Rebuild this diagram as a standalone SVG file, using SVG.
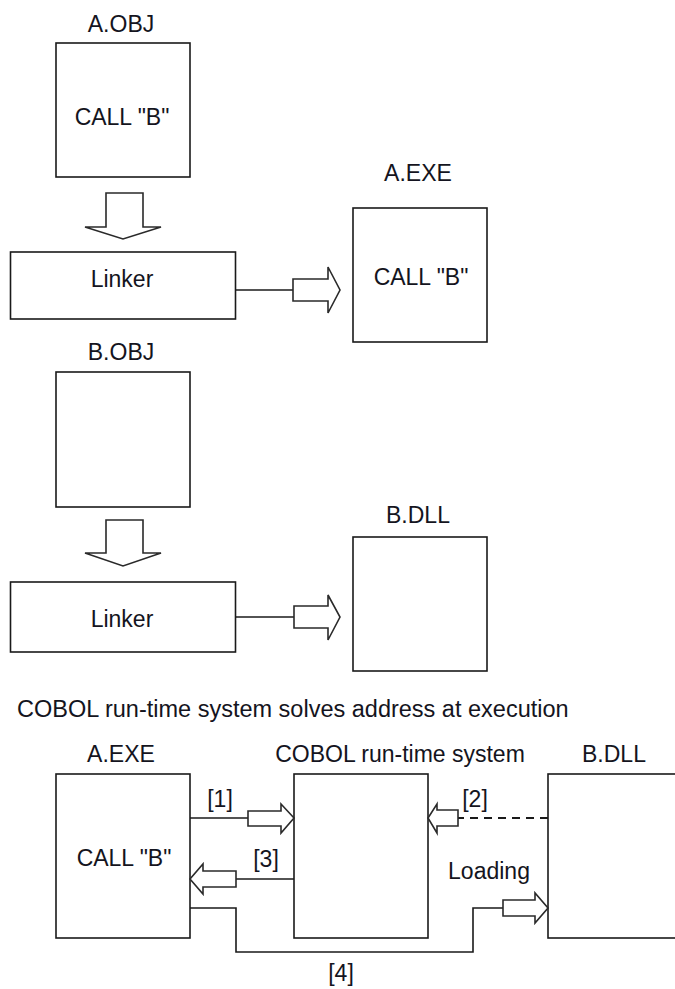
<svg xmlns="http://www.w3.org/2000/svg" width="675" height="989" viewBox="0 0 675 989">
<style>
.box{fill:#fff;stroke:#1a1a1a;stroke-width:1.6}
.t{font-family:"Liberation Sans",Arial,sans-serif;font-size:23px;fill:#141420;text-anchor:middle}
.ln{fill:none;stroke:#1a1a1a;stroke-width:1.6}
.dash{fill:none;stroke:#1a1a1a;stroke-width:1.8;stroke-dasharray:8 6}
.blk{fill:#fff;stroke:#2a2a2a;stroke-width:1.6;stroke-linejoin:miter}
</style>
<rect width="675" height="989" fill="#fff"/>
<g id="a-obj">
<rect class="box" x="56" y="43" width="134" height="134"/>
<text class="t" x="121" y="32">A.OBJ</text>
<text class="t" x="122" y="125">CALL "B"</text>
</g>
<g id="linker1">
<rect class="box" x="10.5" y="252" width="225" height="67"/>
<text class="t" x="122" y="287">Linker</text>
</g>
<g id="a-exe-top">
<rect class="box" x="353" y="208" width="134" height="134"/>
<text class="t" x="418" y="181">A.EXE</text>
<text class="t" x="421" y="285">CALL "B"</text>
</g>
<g id="b-obj">
<rect class="box" x="56" y="372" width="134" height="135"/>
<text class="t" x="121" y="360">B.OBJ</text>
</g>
<g id="linker2">
<rect class="box" x="10.5" y="582" width="225" height="70"/>
<text class="t" x="122" y="627">Linker</text>
</g>
<g id="b-dll-top">
<rect class="box" x="353" y="537" width="134" height="134"/>
<text class="t" x="418" y="523">B.DLL</text>
</g>
<text class="t" x="17" y="717" style="text-anchor:start;font-size:23.5px">COBOL run-time system solves address at execution</text>
<g id="a-exe">
<rect class="box" x="56" y="774" width="134" height="164"/>
<text class="t" x="121" y="762">A.EXE</text>
<text class="t" x="124" y="866">CALL "B"</text>
</g>
<g id="cobol-rts">
<rect class="box" x="294" y="774" width="134" height="164"/>
<text class="t" x="400" y="762">COBOL run-time system</text>
</g>
<g id="b-dll">
<rect class="box" x="548" y="774" width="140" height="164"/>
<text class="t" x="614" y="762">B.DLL</text>
</g>
<g id="connectors">
<polygon class="blk" points="106,193 143,193 143,227 161,227 123,239 85,227 106,227"/>
<polygon class="blk" points="106,520 143,520 143,553 161,553 123,566 85,553 106,553"/>
<line class="ln" x1="236" y1="290" x2="293" y2="290"/>
<polygon class="blk" points="293,279 328,279 328,267 340,290 328,313 328,301 293,301"/>
<line class="ln" x1="236" y1="617" x2="294" y2="617"/>
<polygon class="blk" points="294,606 328,606 328,595 340,617 328,640 328,628 294,628"/>
<line class="ln" x1="190" y1="818" x2="248" y2="818"/>
<polygon class="blk" points="248,811 281,811 281,804 294,818 281,833 281,826 248,826"/>
<text class="t" x="220" y="807">[1]</text>
<line class="dash" x1="548" y1="818" x2="458" y2="818"/>
<polygon class="blk" points="458,810 437,810 437,804 428,818 437,833 437,826 458,826"/>
<text class="t" x="475" y="807">[2]</text>
<line class="ln" x1="294" y1="879" x2="236" y2="879"/>
<polygon class="blk" points="236,871 203,871 203,864 190,879 203,894 203,887 236,887"/>
<text class="t" x="266" y="867">[3]</text>
<polyline class="ln" points="190,908 236,908 236,952 473,952 473,908 503,908"/>
<polygon class="blk" points="503,900 535,900 535,893 548,908 535,923 535,916 503,916"/>
<text class="t" x="489" y="879">Loading</text>
<text class="t" x="341" y="981">[4]</text>
</g>
</svg>
